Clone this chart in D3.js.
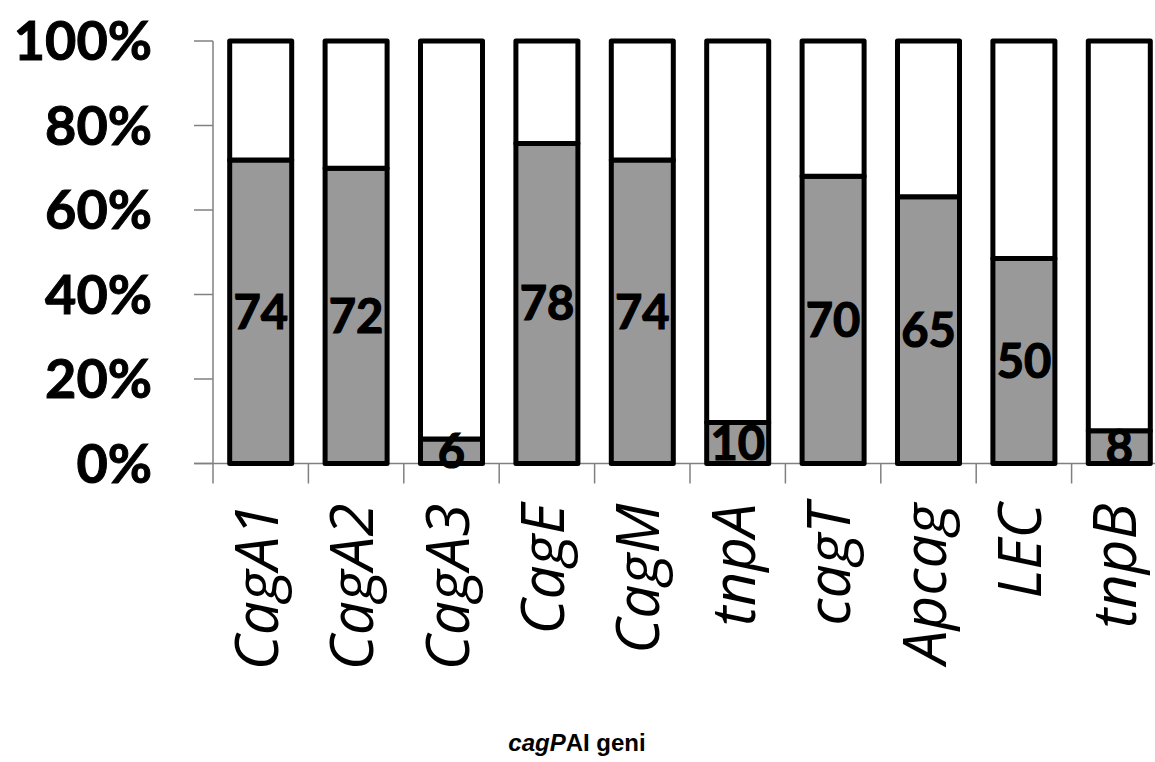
<!DOCTYPE html>
<html>
<head>
<meta charset="utf-8">
<script src="https://cdn.jsdelivr.net/npm/d3@7"></script>
<style>
  body { margin: 0; background: #fff; }
  svg { display: block; }
</style>
</head>
<body>
<div id="wrapper"></div>
<script>
// data
const genes = ["CagA1", "CagA2", "CagA3", "CagE", "CagM", "tnpA", "cagT", "Apcag", "LEC", "tnpB"]
const positive = [74, 72, 6, 78, 74, 10, 70, 65, 50, 8]
const negative = [29, 31, 97, 25, 29, 93, 33, 38, 53, 95]
const yTicks = [0, 20, 40, 60, 80, 100]

function drawChart() {
  const dimensions = {
    width: 1155,
    height: 762,
    margin: { top: 41, right: -12, bottom: 298.5, left: 213 },
  }
  dimensions.boundedWidth = dimensions.width - dimensions.margin.left - dimensions.margin.right
  dimensions.boundedHeight = dimensions.height - dimensions.margin.top - dimensions.margin.bottom

  const wrapper = d3.select("#wrapper")
    .append("svg")
      .attr("width", dimensions.width)
      .attr("height", dimensions.height)

  const bounds = wrapper.append("g")
      .attr("transform", `translate(${dimensions.margin.left},${dimensions.margin.top})`)

  // scales
  const xScale = d3.scaleBand()
    .domain(genes)
    .range([0, dimensions.boundedWidth])
    .padding(0)

  const yScale = d3.scaleLinear()
    .domain([0, 100])
    .range([dimensions.boundedHeight, 0])

  const barWidth = xScale.bandwidth() * 0.65

  const rows = genes.map((g, i) => ({ gene: g, pos: positive[i], neg: negative[i] }))
  const stacked = d3.stack()
    .keys(["pos", "neg"])
    .offset(d3.stackOffsetExpand)(rows)

  // axes (drawn first so bars sit on top)
  const axisColor = "#808080"
  bounds.append("line")
      .attr("x1", 0).attr("x2", 0)
      .attr("y1", yScale(100)).attr("y2", yScale(0))
      .attr("stroke", axisColor).attr("stroke-width", 1.5)
  bounds.selectAll(".ytick")
    .data(yTicks)
    .join("line")
      .attr("class", "ytick")
      .attr("x1", -19).attr("x2", 0)
      .attr("y1", d => yScale(d)).attr("y2", d => yScale(d))
      .attr("stroke", axisColor).attr("stroke-width", 1.5)
  bounds.selectAll(".ylabel")
    .data(yTicks)
    .join("text")
      .attr("class", "ylabel")
      .attr("x", -61)
      .attr("y", d => yScale(d))
      .attr("dy", "0.36em")
      .attr("text-anchor", "end")
      .attr("stroke", "#000")
      .attr("stroke-width", 1)
      .style("font-family", "Lato, 'Open Sans', sans-serif")
      .style("font-weight", "bold")
      .style("font-size", "54px")
      .text(d => d + "%")

  // x axis line + ticks at band boundaries
  bounds.append("line")
      .attr("x1", -19).attr("x2", dimensions.boundedWidth)
      .attr("y1", yScale(0)).attr("y2", yScale(0))
      .attr("stroke", axisColor).attr("stroke-width", 1.5)
  bounds.selectAll(".xtick")
    .data(genes)
    .join("line")
      .attr("class", "xtick")
      .attr("x1", d => xScale(d)).attr("x2", d => xScale(d))
      .attr("y1", yScale(0)).attr("y2", yScale(0) + 20)
      .attr("stroke", axisColor).attr("stroke-width", 1.5)

  // bars
  const fills = { pos: "#999999", neg: "#ffffff" }
  const layers = bounds.selectAll(".layer")
    .data(stacked)
    .join("g")
      .attr("class", "layer")
      .attr("fill", d => fills[d.key])

  layers.selectAll("rect")
    .data(d => d)
    .join("rect")
      .attr("x", d => xScale(d.data.gene) + (xScale.bandwidth() - barWidth) / 2)
      .attr("width", barWidth)
      .attr("y", d => yScale(d[1] * 100))
      .attr("height", d => yScale(d[0] * 100) - yScale(d[1] * 100))
      .attr("stroke", "#000")
      .attr("stroke-width", 5)
      .attr("stroke-linejoin", "round")

  // value labels in grey segment
  bounds.selectAll(".vlabel")
    .data(stacked[0])
    .join("text")
      .attr("class", "vlabel")
      .attr("x", d => xScale(d.data.gene) + xScale.bandwidth() / 2)
      .attr("y", d => (yScale(d[0] * 100) + yScale(d[1] * 100)) / 2)
      .attr("dy", "0.36em")
      .attr("text-anchor", "middle")
      .attr("stroke", "#000")
      .attr("stroke-width", 1.2)
      .style("font-family", "Lato, 'Open Sans', sans-serif")
      .style("font-weight", "bold")
      .style("font-size", "47px")
      .text(d => d.data.pos)

  // category labels, rotated
  bounds.selectAll(".xlabel")
    .data(genes)
    .join("text")
      .attr("class", "xlabel")
      .attr("transform", d => `translate(${xScale(d) + xScale.bandwidth() / 2 + 17},${yScale(0) + 40}) rotate(-90)`)
      .attr("text-anchor", "end")
      .style("font-family", "'Open Sans', sans-serif")
      .style("font-style", "italic")
      .style("font-size", "60px")
      .text(d => d)

  // axis title
  const title = wrapper.append("text")
      .attr("x", 577)
      .attr("y", 751)
      .attr("text-anchor", "middle")
      .style("font-family", "'Liberation Sans', Arial, sans-serif")
      .style("font-weight", "bold")
      .style("font-size", "24px")
  title.append("tspan").style("font-style", "italic").text("cagP")
  title.append("tspan").text("AI geni")
}

drawChart()
</script>
</body>
</html>
